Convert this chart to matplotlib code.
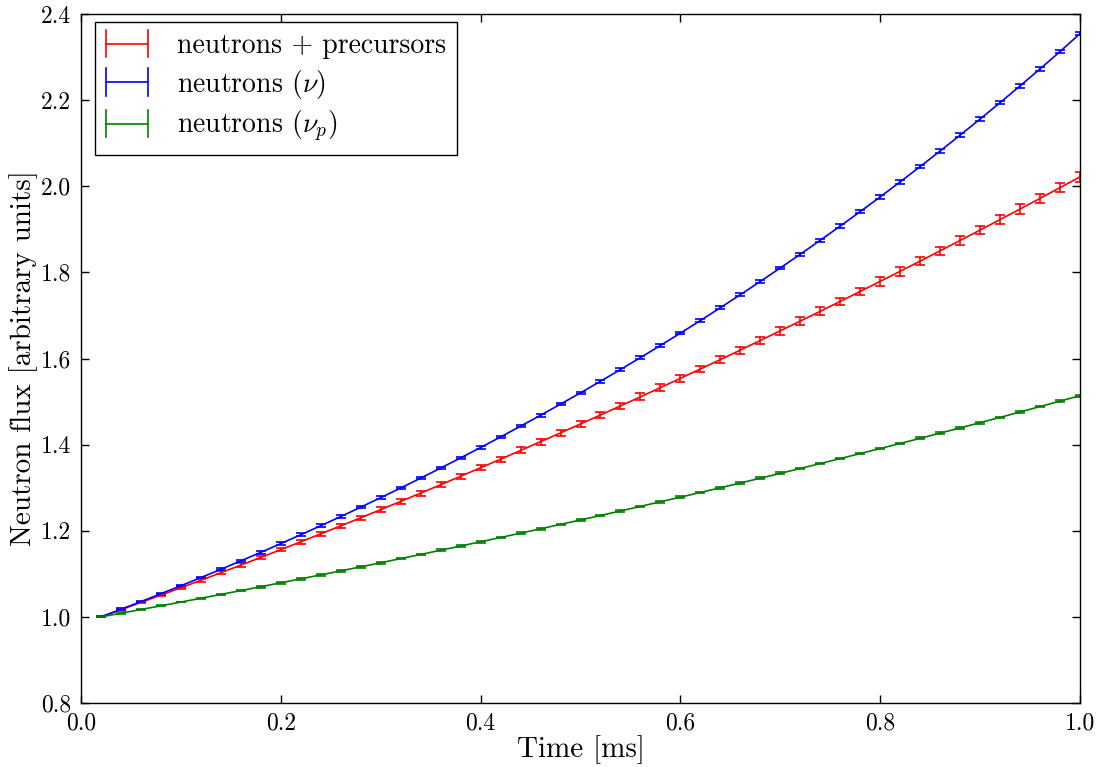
import matplotlib
matplotlib.use("Agg")
import matplotlib.pyplot as plt
from matplotlib.legend_handler import HandlerBase
from matplotlib.lines import Line2D
import numpy as np

time_ms = [0.02, 0.04, 0.06, 0.08, 0.10, 0.12, 0.14, 0.16, 0.18, 0.20,
           0.22, 0.24, 0.26, 0.28, 0.30, 0.32, 0.34, 0.36, 0.38, 0.40,
           0.42, 0.44, 0.46, 0.48, 0.50, 0.52, 0.54, 0.56, 0.58, 0.60,
           0.62, 0.64, 0.66, 0.68, 0.70, 0.72, 0.74, 0.76, 0.78, 0.80,
           0.82, 0.84, 0.86, 0.88, 0.90, 0.92, 0.94, 0.96, 0.98, 1.00]

flux_precursors = [1.000, 1.0166, 1.0335, 1.0505, 1.0676, 1.0850, 1.1025, 1.1202, 1.1381, 1.1561,
                   1.1744, 1.1928, 1.2113, 1.2301, 1.2490, 1.2681, 1.2874, 1.3068, 1.3265, 1.3463,
                   1.3662, 1.3864, 1.4067, 1.4272, 1.4479, 1.4688, 1.4898, 1.5110, 1.5324, 1.5539,
                   1.5756, 1.5975, 1.6196, 1.6419, 1.6643, 1.6869, 1.7097, 1.7326, 1.7558, 1.7791,
                   1.8026, 1.8262, 1.8500, 1.8741, 1.8982, 1.9226, 1.9471, 1.9718, 1.9967, 2.0218]
err_precursors = [0.001, 0.002, 0.002, 0.003, 0.003, 0.003, 0.004, 0.004, 0.004, 0.004,
                  0.005, 0.005, 0.005, 0.005, 0.005, 0.006, 0.006, 0.006, 0.006, 0.006,
                  0.006, 0.007, 0.007, 0.007, 0.007, 0.007, 0.007, 0.008, 0.008, 0.008,
                  0.008, 0.008, 0.008, 0.009, 0.009, 0.009, 0.009, 0.009, 0.009, 0.010,
                  0.010, 0.010, 0.010, 0.010, 0.010, 0.011, 0.011, 0.011, 0.011, 0.011]

flux_nu = [1.0000, 1.0176, 1.0355, 1.0538, 1.0723, 1.0912, 1.1104, 1.1300, 1.1499, 1.1701,
           1.1907, 1.2117, 1.2330, 1.2547, 1.2768, 1.2993, 1.3222, 1.3455, 1.3692, 1.3933,
           1.4178, 1.4428, 1.4682, 1.4940, 1.5203, 1.5471, 1.5743, 1.6020, 1.6302, 1.6589,
           1.6881, 1.7179, 1.7481, 1.7789, 1.8102, 1.8421, 1.8745, 1.9075, 1.9411, 1.9753,
           2.0102, 2.0457, 2.0818, 2.1186, 2.1561, 2.1942, 2.2330, 2.2725, 2.3127, 2.3545]
err_nu = [0.001, 0.002, 0.002, 0.002, 0.002, 0.002, 0.002, 0.002, 0.003, 0.003,
          0.003, 0.003, 0.003, 0.003, 0.003, 0.003, 0.003, 0.003, 0.003, 0.003,
          0.003, 0.003, 0.003, 0.003, 0.003, 0.003, 0.003, 0.003, 0.003, 0.003,
          0.003, 0.003, 0.003, 0.003, 0.003, 0.003, 0.004, 0.004, 0.004, 0.004,
          0.004, 0.004, 0.004, 0.004, 0.004, 0.004, 0.004, 0.004, 0.004, 0.004]

flux_nu_p = [1.0000, 1.0085, 1.0171, 1.0257, 1.0344, 1.0432, 1.0521, 1.0610, 1.0700, 1.0791,
             1.0883, 1.0975, 1.1068, 1.1162, 1.1257, 1.1353, 1.1449, 1.1547, 1.1645, 1.1744,
             1.1843, 1.1944, 1.2045, 1.2148, 1.2251, 1.2355, 1.2460, 1.2566, 1.2673, 1.2780,
             1.2889, 1.2998, 1.3109, 1.3220, 1.3333, 1.3446, 1.3560, 1.3676, 1.3792, 1.3909,
             1.4027, 1.4146, 1.4267, 1.4388, 1.4510, 1.4633, 1.4758, 1.4883, 1.5010, 1.5137]
err_nu_p = [0.001, 0.001, 0.001, 0.001, 0.001, 0.001, 0.001, 0.001, 0.002, 0.002,
            0.002, 0.002, 0.002, 0.002, 0.002, 0.002, 0.002, 0.002, 0.002, 0.002,
            0.002, 0.002, 0.002, 0.002, 0.002, 0.002, 0.002, 0.002, 0.002, 0.002,
            0.002, 0.002, 0.002, 0.002, 0.002, 0.002, 0.002, 0.002, 0.002, 0.002,
            0.002, 0.002, 0.002, 0.002, 0.002, 0.002, 0.002, 0.002, 0.002, 0.002]

labels = ["neutrons + precursors", r"neutrons ($\nu$)", r"neutrons ($\nu_p$)"]
colors = ["#ff0000", "#0000ff", "#008000"]

plt.rcParams['font.family'] = ['cmr10', 'DejaVu Serif']
plt.rcParams['mathtext.fontset'] = 'cm'
plt.rcParams['axes.unicode_minus'] = False
plt.rcParams['font.size'] = 17


class CapHandler(HandlerBase):
    """Legend handle: horizontal line with vertical caps at both ends."""
    def create_artists(self, legend, orig_handle, xdescent, ydescent,
                       width, height, fontsize, trans):
        c = orig_handle.get_color()
        yc = height / 2 - ydescent
        x0, x1 = -xdescent, -xdescent + width
        h = height * 0.7
        arts = [Line2D([x0, x1], [yc, yc], color=c, lw=1.2),
                Line2D([x0, x0], [yc - h, yc + h], color=c, lw=1.2),
                Line2D([x1, x1], [yc - h, yc + h], color=c, lw=1.2)]
        for a in arts:
            a.set_transform(trans)
        return arts


fig = plt.figure(figsize=(11.04, 7.67), dpi=100)
ax = fig.add_axes([81/1104, 64/767, 999/1104, 689/767])

series = [(flux_precursors, err_precursors), (flux_nu, err_nu), (flux_nu_p, err_nu_p)]
proxies = []
for (y, e), lab, c in zip(series, labels, colors):
    ax.errorbar(time_ms, y, yerr=e, color=c, ecolor=c, lw=1.2, elinewidth=1.2,
                capsize=3.5, capthick=1.2)
    proxies.append(Line2D([], [], color=c))

ax.set_xlim(0.0, 1.0)
ax.set_ylim(0.8, 2.4)
ax.set_xticks(np.arange(0.0, 1.01, 0.2))
ax.set_yticks(np.arange(0.8, 2.41, 0.2))
ax.xaxis.set_major_formatter(matplotlib.ticker.FormatStrFormatter('%.1f'))
ax.yaxis.set_major_formatter(matplotlib.ticker.FormatStrFormatter('%.1f'))
ax.tick_params(direction='in', length=6, width=1, top=True, right=True, pad=7, labelsize=17)
for sp in ax.spines.values():
    sp.set_linewidth(1.0)

ax.set_xlabel("Time [ms]", fontsize=21, labelpad=0)
ax.set_ylabel("Neutron flux [arbitrary units]", fontsize=21, labelpad=2)

leg = ax.legend(proxies, labels, loc='upper left', fancybox=False, framealpha=1,
                edgecolor='black', fontsize=20, handlelength=1.5, handletextpad=1.05,
                borderpad=0.4, labelspacing=0.3, borderaxespad=0.0,
                bbox_to_anchor=(14/999, 1 - 8/689),
                handler_map={Line2D: CapHandler()})
leg.get_frame().set_linewidth(1.0)

fig.savefig("out.png", dpi=100, facecolor='white')
